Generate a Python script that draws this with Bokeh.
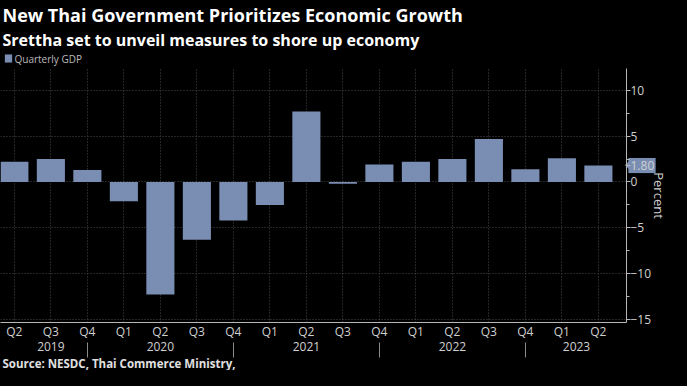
from bokeh.plotting import figure
from bokeh.models import (ColumnDataSource, FixedTicker, LinearAxis, Title, Label, Range1d)
from bokeh.embed import file_html
from bokeh.resources import INLINE

# ---- data ----
quarters = ["Q2", "Q3", "Q4", "Q1", "Q2", "Q3", "Q4", "Q1", "Q2",
            "Q3", "Q4", "Q1", "Q2", "Q3", "Q4", "Q1", "Q2"]
years = ["2019", "2019", "2019", "2020", "2020", "2020", "2020", "2021", "2021",
         "2021", "2021", "2022", "2022", "2022", "2022", "2023", "2023"]
gdp = [2.2, 2.5, 1.3, -2.1, -12.3, -6.3, -4.2, -2.5, 7.7,
       -0.2, 1.9, 2.2, 2.5, 4.7, 1.4, 2.6, 1.8]
year_labels = ["2019", "2020", "2021", "2022", "2023"]
year_label_pos = [1, 4, 8, 12, 15.4]
y_major = [-15, -10, -5, 0, 5, 10]
y_minor = [-12.5, -7.5, -2.5, 2.5, 7.5]

title_text = "New Thai Government Prioritizes Economic Growth"
subtitle_text = "Srettha set to unveil measures to shore up economy"
legend_text = "Quarterly GDP"
source_text = "Source: NESDC, Thai Commerce Ministry,"

BAR = "#7a8db3"
FONT = "Open Sans"

x = list(range(len(quarters)))
src = ColumnDataSource(dict(x=x, gdp=gdp, q=quarters, yr=years))
last = gdp[-1]

x_start = -0.38
x_end = len(quarters) - 1 + 0.77
y_top = 12.4
p = figure(width=671, height=370, output_backend="svg", toolbar_location=None,
           x_range=Range1d(x_start, x_end), y_range=Range1d(-15.35, y_top),
           y_axis_location="right", title_location=None,
           background_fill_color="black", border_fill_color="black",
           outline_line_color=None, min_border_left=0, min_border_right=0,
           min_border_top=0, min_border_bottom=0)

bars = p.vbar(x="x", top="gdp", width=0.77, source=src,
              fill_color=BAR, line_color=None)

# grids
p.xgrid.ticker = FixedTicker(ticks=x)
p.ygrid.ticker = FixedTicker(ticks=y_major)
for g in (p.xgrid[0], p.ygrid[0]):
    g.grid_line_color = "#4a4a4a"
    g.grid_line_dash = "1 2"
    g.grid_line_width = 1

# right y axis (the last value gets its own tick label, shown on a tag)
ya = p.yaxis[0]
ya.level = "overlay"
ya.ticker = FixedTicker(ticks=y_major + [last], minor_ticks=y_minor)
ya.major_label_overrides = {last: f"{last:.2f}"}
ya.axis_line_color = "#b8b8b8"
ya.major_tick_line_color = "#b8b8b8"
ya.minor_tick_line_color = "#b8b8b8"
ya.major_tick_in = 0
ya.major_tick_out = 4
ya.minor_tick_in = 0
ya.minor_tick_out = 3
ya.major_label_standoff = 0
ya.major_label_text_color = "#d0d0d0"
ya.major_label_text_font = FONT
ya.major_label_text_font_size = "12px"
ya.axis_label = "Percent"
ya.axis_label_text_color = "#d0d0d0"
ya.axis_label_text_font = FONT
ya.axis_label_text_font_size = "13px"
ya.axis_label_text_font_style = "normal"
ya.axis_label_standoff = -7

# quarter axis
xa = p.xaxis[0]
xa.ticker = FixedTicker(ticks=x)
xa.major_label_overrides = {i: q for i, q in zip(x, quarters)}
xa.axis_line_color = "#b8b8b8"
xa.major_tick_line_color = None
xa.major_tick_in = 0
xa.major_tick_out = 0
xa.major_label_standoff = 0
xa.major_label_text_color = "#d0d0d0"
xa.major_label_text_font = FONT
xa.major_label_text_font_size = "12px"

# year axis with separators at Q4
sep = [i for i, q in zip(x, quarters) if q == "Q4"]
yax = LinearAxis(ticker=FixedTicker(ticks=year_label_pos, minor_ticks=sep),
                 major_label_overrides={v: t for v, t in zip(year_label_pos, year_labels)},
                 axis_line_color=None, major_tick_line_color=None,
                 major_tick_in=0, major_tick_out=0,
                 minor_tick_in=0, minor_tick_out=15, minor_tick_line_color="#8a8a8a",
                 major_label_standoff=-16, major_label_text_color="#d0d0d0",
                 major_label_text_font=FONT, major_label_text_font_size="12px")
p.add_layout(yax, "below")

p.add_layout(Title(text=source_text, text_font=FONT, text_font_size="11.5px",
                   text_font_style="bold", text_color="#e0e0e0", align="left",
                   standoff=0, offset=2), "below")

# ---- tag behind the last-value label, legend, titles ----
def block(xv, yv, dx, dy, size, angle=0.0):
    return Label(x=xv, y=yv, x_offset=dx, y_offset=dy, text=" ", text_font_size="1px",
                 text_align="center", text_baseline="middle", angle=angle,
                 background_fill_color=BAR, background_fill_alpha=1.0,
                 border_line_color=BAR, border_line_width=size, border_line_alpha=1.0,
                 border_line_join="miter")

tip = block(x_end, last, 6, 0, 10, angle=0.785398)
tag_a = block(x_end, last, 9, 0, 14)
tag_b = block(x_end, last, 22, 0, 14)
sq = block(x_start, y_top, 8, 10, 7)
leg = Label(x=x_start, y=y_top, x_offset=14, y_offset=10, text=legend_text,
            text_align="left", text_baseline="middle", text_font=FONT,
            text_font_size="10px", text_color="#bbbbbb")

for lab in (tip, tag_a, tag_b, sq, leg):
    p.add_layout(lab, "above")

p.add_layout(Title(text=subtitle_text, text_font=FONT, text_font_size="16px",
                   text_font_style="bold", text_color="#ffffff", align="left",
                   standoff=0, offset=2), "above")
p.add_layout(Title(text=title_text, text_font=FONT, text_font_size="18px",
                   text_font_style="bold", text_color="#ffffff", align="left",
                   standoff=0, offset=2), "above")

html = file_html(p, INLINE)
html = html.replace("</head>", "<style>html,body{background-color:#000000;}</style></head>", 1)
open("out.html", "w").write(html)
